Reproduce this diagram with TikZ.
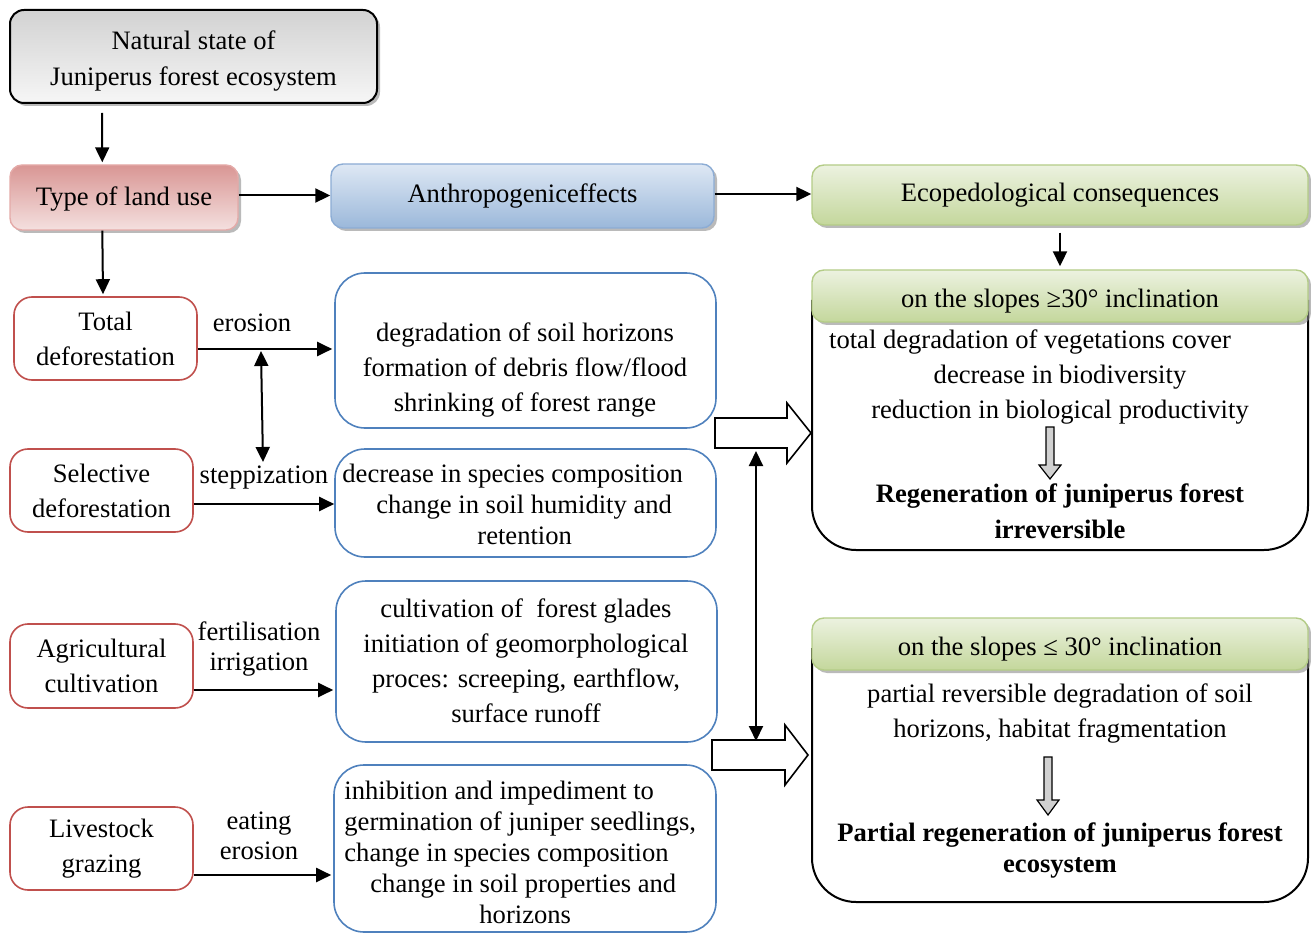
\documentclass[tikz,border=0pt]{standalone}
\usepackage{fontspec}
\setmainfont{Liberation Serif}
\usetikzlibrary{arrows.meta,shadows}
\definecolor{redtop}{RGB}{217,150,148}
\definecolor{redbot}{RGB}{244,224,223}
\definecolor{redline}{RGB}{192,80,77}
\definecolor{redsoft}{RGB}{228,170,168}
\definecolor{bluetop}{RGB}{222,232,244}
\definecolor{bluebot}{RGB}{155,184,218}
\definecolor{blueline}{RGB}{79,129,189}
\definecolor{bluesoft}{RGB}{140,172,212}
\definecolor{greentop}{RGB}{236,242,224}
\definecolor{greenbot}{RGB}{196,215,156}
\definecolor{greensoft}{RGB}{180,204,135}
\definecolor{graytop}{RGB}{210,210,210}
\definecolor{graybot}{RGB}{246,246,246}
\tikzset{
  txt/.style={font=\fontsize{13.3}{17.5}\selectfont, align=center, inner sep=0pt},
  shadowed/.style={drop shadow={shadow xshift=1.5pt,shadow yshift=-1.5pt,fill=black!45,opacity=0.6}},
  topbox/.style={txt, shadowed, rounded corners=6pt, line width=0.7pt},
  redbox/.style={txt, draw=redline, line width=0.8pt, rounded corners=9pt, fill=white},
  bluebox/.style={draw=blueline, line width=0.8pt, rounded corners=15pt, fill=white, inner sep=0pt},
  conn/.style={line width=1pt, -{Triangle[length=7.5pt,width=7pt]}},
  dconn/.style={line width=1pt, {Triangle[length=7.5pt,width=7pt]}-{Triangle[length=7.5pt,width=7pt]}},
  blockarrow/.style={draw, line width=0.8pt, fill=white, line join=miter},
  grayarrow/.style={draw, line width=0.6pt, fill=black!18},
  consbox/.style={draw, line width=1pt, rounded corners=22pt},
  lbl/.style={txt}
}
\begin{document}
\begin{tikzpicture}[x=0.5pt,y=-0.5pt]
\useasboundingbox (0,0) rectangle (1311,935);

% top row
\node[topbox, draw=black, line width=1pt, rounded corners=7pt, top color=graytop, bottom color=graybot,
      minimum width=183.5pt, minimum height=46.5pt, font=\fontsize{13.3}{18}\selectfont]
  (nat) at (193.5,56.5) {\rule{0pt}{14pt}Natural state of\\Juniperus forest ecosystem};
\node[topbox, draw=redsoft, top color=redtop, bottom color=redbot, minimum width=114pt, minimum height=32.5pt]
  (tl) at (124,197.5) {\rule{0pt}{11pt}Type of land use};
\node[topbox, draw=bluesoft, top color=bluetop, bottom color=bluebot, minimum width=191.5pt, minimum height=32pt]
  (an) at (522.5,196) {Anthropogeniceffects};
\node[topbox, draw=greensoft, top color=greentop, bottom color=greenbot, minimum width=248pt, minimum height=30pt]
  (eco) at (1060,195) {Ecopedological consequences};

% consequence boxes
\draw[consbox] (812,300) |- (1308,550) -- (1308,300);
\draw[consbox] (812,648) |- (1308,902) -- (1308,648);
\node[topbox, draw=greensoft, top color=greentop, bottom color=greenbot, minimum width=248pt, minimum height=26pt]
  (h1) at (1060,296) {\rule{0pt}{14pt}on the slopes ≥30° inclination};
\node[topbox, draw=greensoft, top color=greentop, bottom color=greenbot, minimum width=248pt, minimum height=26pt]
  (h2) at (1060,644) {\rule{0pt}{14pt}on the slopes ≤ 30° inclination};

\node[txt] (c1t) at (1060,377) {total degradation of vegetations cover\hspace*{30pt}\\decrease in biodiversity\\reduction in biological productivity};
\node[txt, font=\fontsize{13.3}{18}\selectfont\bfseries] (c1r) at (1060,511) {Regeneration of juniperus forest\\irreversible};
\node[txt] (c2t) at (1060,714) {partial reversible degradation of soil\\horizons, habitat fragmentation};
\node[txt, font=\fontsize{13.3}{15.5}\selectfont\bfseries] (c2r) at (1060,850) {Partial regeneration of juniperus forest\\ecosystem};

\draw[grayarrow] (1046,427) -- (1054,427) -- (1054,465) -- (1061,465) -- (1050,479) -- (1039,465) -- (1046,465) -- cycle;
\draw[grayarrow] (1044,757) -- (1052,757) -- (1052,800) -- (1059,800) -- (1048,815) -- (1037,800) -- (1044,800) -- cycle;

% red boxes
\node[redbox, minimum width=91.5pt, minimum height=41.5pt] (tot) at (105.5,338.5) {Total\\deforestation};
\node[redbox, minimum width=91.5pt, minimum height=41.5pt] (sel) at (101.5,490.5) {Selective\\deforestation};
\node[redbox, minimum width=91.5pt, minimum height=42pt] (agr) at (101.5,666) {Agricultural\\cultivation};
\node[redbox, minimum width=91.5pt, minimum height=41.5pt] (liv) at (101.5,848.5) {Livestock\\grazing};

% blue boxes
\node[bluebox, minimum width=190.5pt, minimum height=77.5pt] (b1) at (525.5,350.5) {};
\node[bluebox, minimum width=190.5pt, minimum height=54pt] (b2) at (525.5,503) {};
\node[bluebox, minimum width=190.5pt, minimum height=80.5pt] (b3) at (526.5,661.5) {};
\node[bluebox, minimum width=191pt, minimum height=83.5pt] (b4) at (525,848.5) {};

\node[txt] (b1t) at (525,370) {degradation of soil horizons\\formation of debris flow/flood\\shrinking of forest range};
\node[txt, align=left, anchor=west, font=\fontsize{13.3}{15.5}\selectfont] (b2t) at (342,504)
  {decrease in species composition\\\hspace*{17pt}change in soil humidity and\\\hspace*{67.5pt}retention};
\node[txt] (b3t) at (526,661) {cultivation of \ forest glades\\initiation of geomorphological\\proces: screeping, earthflow,\\surface runoff};
\node[txt, align=left, anchor=west, font=\fontsize{13.3}{15.5}\selectfont] (b4t) at (344,852)
  {inhibition and impediment to\\germination of juniper seedlings,\\change in species composition\\\hspace*{13pt}change in soil properties and\\\hspace*{67.5pt}horizons};

% connectors
\draw[conn] ([xshift=46.5pt,yshift=-4.5pt]nat.south west) -- ([xshift=46.5pt,yshift=1pt]tl.north west);
\draw[conn] ([xshift=46.5pt]tl.south west) -- ([xshift=-1.25pt,yshift=1pt]tot.north);
\draw[conn] ([yshift=1pt]tl.east) -- ([yshift=1pt]tl.east -| an.west);
\draw[conn] ([yshift=1pt]an.east) -- ([yshift=1pt]an.east -| eco.west);
\draw[conn] ([yshift=-3.5pt]eco.south) -- ([yshift=1.5pt]h1.north);

\draw[conn] ([yshift=-5.25pt]tot.east) -- ([yshift=-5.25pt,xshift=-1pt]tot.east -| b1.west);
\draw[conn] ([yshift=-6.75pt]sel.east) -- ([yshift=-6.75pt]sel.east -| b2.west);
\draw[conn] ([yshift=-12pt]agr.east) -- ([yshift=-12pt,xshift=-1pt]agr.east -| b3.west);
\draw[conn] ([yshift=-13.25pt]liv.east) -- ([yshift=-13.25pt,xshift=-1pt]liv.east -| b4.west);

\node[lbl] (l1) at (252,323) {erosion};
\node[lbl] (l2) at (264,478) {steppization};
\node[lbl, font=\fontsize{13.3}{15}\selectfont] (l3) at (259,649) {fertilisation\\irrigation};
\node[lbl, font=\fontsize{13.3}{15}\selectfont] (l4) at (259,836) {eating\\erosion};

\coordinate (d1a) at (261,351);
\coordinate (d1b) at (263,462);
\draw[dconn] (d1a) -- (d1b);

% block arrows
\draw[blockarrow] (715,418) -- (787,418) -- (787,403) -- (811,433) -- (787,463) -- (787,448) -- (715,448) -- cycle;
\draw[blockarrow] (712,740) -- (785,740) -- (785,725) -- (808,755) -- (785,785) -- (785,770) -- (712,770) -- cycle;
\coordinate (d2a) at (756,451);
\coordinate (d2b) at (756,741);
\draw[dconn] (d2a) -- (d2b);

\end{tikzpicture}
\end{document}
